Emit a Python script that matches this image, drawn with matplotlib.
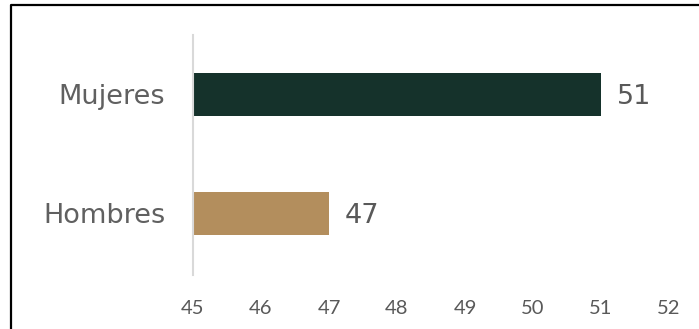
import matplotlib
matplotlib.use("Agg")
import matplotlib.pyplot as plt
from matplotlib.lines import Line2D

# Data
categories = ["Hombres", "Mujeres"]
values = [47, 51]
bar_colors = ["#B38E5D", "#15322B"]
x_ticks = [45, 46, 47, 48, 49, 50, 51, 52]

W, H = 699, 329
fig = plt.figure(figsize=(W / 100, H / 100), dpi=100)

# Plot area in pixel terms
left_px, right_px = 193, 669
top_px, bottom_px = 35, 275
ax = fig.add_axes([left_px / W, 1 - bottom_px / H,
                   (right_px - left_px) / W, (bottom_px - top_px) / H])

ypos = list(range(len(categories)))
ax.barh(ypos, [v - x_ticks[0] for v in values], left=x_ticks[0],
        height=0.36, color=bar_colors, zorder=2)

ax.set_xlim(x_ticks[0], x_ticks[-1])
ax.set_ylim(-0.52, 1.5)

# Only a light left spine
for side in ["top", "right", "bottom"]:
    ax.spines[side].set_visible(False)
ax.spines["left"].set_color("#D9D9D9")
ax.spines["left"].set_linewidth(1.5)

ax.set_xticks(x_ticks)
ax.set_xticklabels([str(t) for t in x_ticks], fontsize=14.5, family="Lato",
                   color="#595959")
ax.tick_params(axis="x", length=0, pad=18)

ax.set_yticks(ypos)
ax.set_yticklabels(categories, fontsize=19.5, family="DejaVu Sans",
                   color="#606060")
ax.tick_params(axis="y", length=0, pad=20)

# Value labels at the end of each bar
for y, v in zip(ypos, values):
    ax.text(v + 0.23, y, f"{v}", va="center_baseline", ha="left",
            fontsize=19.5, family="DejaVu Sans", color="#595959")

# Frame lines on the left and top edges
fig.add_artist(Line2D([11 / W, 11 / W, 1.01], [-0.01, 1 - 5 / H, 1 - 5 / H],
                      transform=fig.transFigure, color="black", lw=1.6))

fig.savefig("out.png", dpi=100)
